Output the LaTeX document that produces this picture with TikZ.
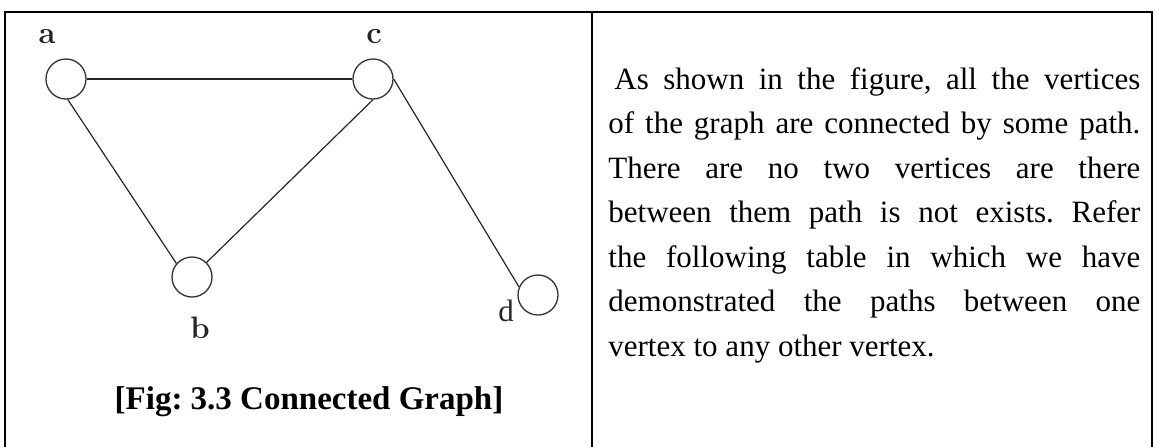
\documentclass[tikz,border=0pt]{standalone}
\usepackage{fontspec}
\newfontfamily\tnr{Liberation Serif}
\frenchspacing
\begin{document}
\begin{tikzpicture}[x=0.5pt,y=-0.5pt,
  vtx/.style={circle,draw=black!80,line width=0.65pt,minimum size=20pt,inner sep=0pt},
  edge/.style={draw=black!85,line width=0.6pt},
  frame/.style={line width=1pt,draw=black},
  lbl/.style={font=\bfseries\fontsize{15.5}{15.5}\selectfont,text=black!85,anchor=base,inner sep=0pt},
  body/.style={anchor=base west,inner sep=0pt,font=\tnr\fontsize{15.5}{15.5}\selectfont},
]
\useasboundingbox (0,0) rectangle (1157,446);
\begin{scope}
\clip (0,0) rectangle (1157,446);
\draw[frame] (5,470) -- (5,12) -- (1152,12) -- (1152,470);
\draw[frame] (592,12) -- (592,470);
\end{scope}
\node[vtx] (a) at (66,79) {};
\node[vtx] (c) at (373,79) {};
\node[vtx] (b) at (192,277) {};
\node[vtx] (d) at (538,295) {};
\draw[edge] (a) -- (c);
\draw[edge] (a.-85) -- (b.139);
\draw[edge] (b.45) -- (c.south);
\draw[edge] (c.east) -- (d.157);
\node[lbl] (la) at (47,43) {a};
\node[lbl] (lc) at (374,43) {c};
\node[lbl] (lb) at (200,338) {b};
\node[lbl,font=\tnr\fontsize{15.5}{15.5}\selectfont] (ld) at (506,321) {d};
\node[anchor=base,inner sep=0pt,font=\tnr\bfseries\fontsize{16.5}{16.5}\selectfont] (cap) at (309,409) {[Fig: 3.3 Connected Graph]};
\node[body] (l1) at (614,89) {\makebox[263pt][s]{As shown in the figure, all the vertices}};
\node[body] (l2) at (608,133.5) {\makebox[266pt][s]{of the graph are connected by some path.}};
\node[body] (l3) at (608,178) {\makebox[266pt][s]{There are no two vertices are there}};
\node[body] (l4) at (608,222.5) {\makebox[266pt][s]{between them path is not exists. Refer}};
\node[body] (l5) at (608,267) {\makebox[266pt][s]{the following table in which we have}};
\node[body] (l6) at (608,311.5) {\makebox[266pt][s]{demonstrated the paths between one}};
\node[body] (l7) at (608,356) {vertex to any other vertex.};
\end{tikzpicture}
\end{document}
